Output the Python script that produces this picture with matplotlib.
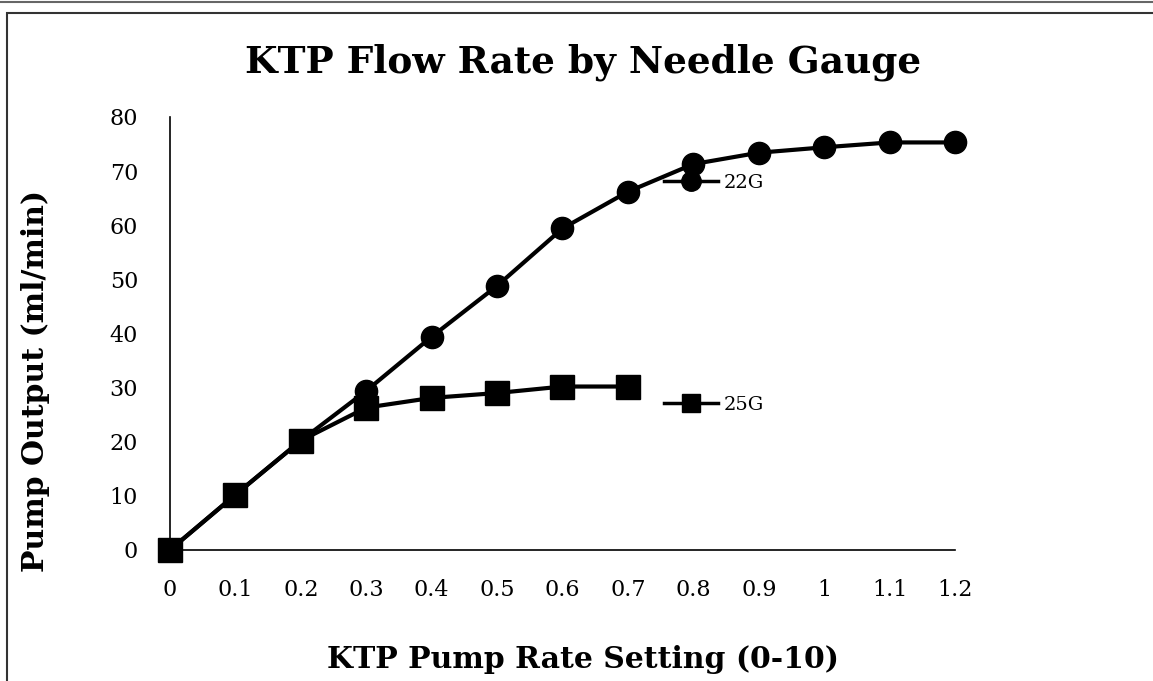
import matplotlib.pyplot as plt
from matplotlib.lines import Line2D
from matplotlib.patches import Rectangle

# data
rate_22g = [0, 0.1, 0.2, 0.3, 0.4, 0.5, 0.6, 0.7, 0.8, 0.9, 1.0, 1.1, 1.2]
flow_22g = [0, 10.2, 20.2, 29.4, 39.4, 48.8, 59.4, 66.2, 71.3, 73.4, 74.4, 75.3, 75.3]
rate_25g = [0, 0.1, 0.2, 0.3, 0.4, 0.5, 0.6, 0.7]
flow_25g = [0, 10.2, 20.2, 26.3, 28.1, 29.0, 30.2, 30.2]
x_ticks = [0, 0.1, 0.2, 0.3, 0.4, 0.5, 0.6, 0.7, 0.8, 0.9, 1, 1.1, 1.2]
x_tick_labels = ["0", "0.1", "0.2", "0.3", "0.4", "0.5", "0.6", "0.7", "0.8", "0.9", "1", "1.1", "1.2"]
y_ticks = [0, 10, 20, 30, 40, 50, 60, 70, 80]

plt.rcParams["font.family"] = "DejaVu Serif"

fig = plt.figure(figsize=(11.53, 6.81), dpi=100)
ax = fig.add_axes([0.1474, 0.1924, 0.6809, 0.6358])

ax.plot(rate_22g, flow_22g, color="black", lw=3, marker="o", ms=16, clip_on=False, zorder=3)
ax.plot(rate_25g, flow_25g, color="black", lw=3, marker="s", ms=17, clip_on=False, zorder=4)

ax.set_xlim(0, 1.2)
ax.set_ylim(0, 80)
ax.set_xticks(x_ticks)
ax.set_xticklabels(x_tick_labels)
ax.set_yticks(y_ticks)
ax.tick_params(axis="both", length=0, labelsize=16)
ax.tick_params(axis="x", pad=21)
ax.tick_params(axis="y", pad=23)
ax.spines["top"].set_visible(False)
ax.spines["right"].set_visible(False)
ax.spines["left"].set_linewidth(1.2)
ax.spines["bottom"].set_linewidth(1.2)

# legend entries sit far apart, so two single-entry legends
h22 = Line2D([], [], color="black", lw=2.5, marker="o", ms=14)
h25 = Line2D([], [], color="black", lw=2.5, marker="s", ms=13)
leg_kw = dict(frameon=False, fontsize=14, handlelength=2.8, handletextpad=0.3,
              borderpad=0, borderaxespad=0, loc="center left")
leg1 = ax.legend([h22], ["22G"], bbox_to_anchor=(0.629, 0.848), **leg_kw)
ax.add_artist(leg1)
ax.legend([h25], ["25G"], bbox_to_anchor=(0.629, 0.335), **leg_kw)

fig.text(0.506, 0.909, "KTP Flow Rate by Needle Gauge", ha="center", va="center",
         fontsize=27, fontweight="bold")
fig.text(0.506, 0.031, "KTP Pump Rate Setting (0-10)", ha="center", va="center",
         fontsize=21.5, fontweight="bold")
fig.text(0.031, 0.44, "Pump Output (ml/min)", ha="center", va="center",
         fontsize=21.5, fontweight="bold", rotation=90)

# page frame
fig.add_artist(Line2D([0, 1], [0.997, 0.997], color="#666666", lw=1.5, transform=fig.transFigure))
fig.add_artist(Rectangle((7 / 1153, -0.05), 1.1, 0.05 + 1 - 13 / 681, fill=False,
                         edgecolor="#333333", lw=1.5, transform=fig.transFigure))

fig.savefig("out.png", dpi=100)
